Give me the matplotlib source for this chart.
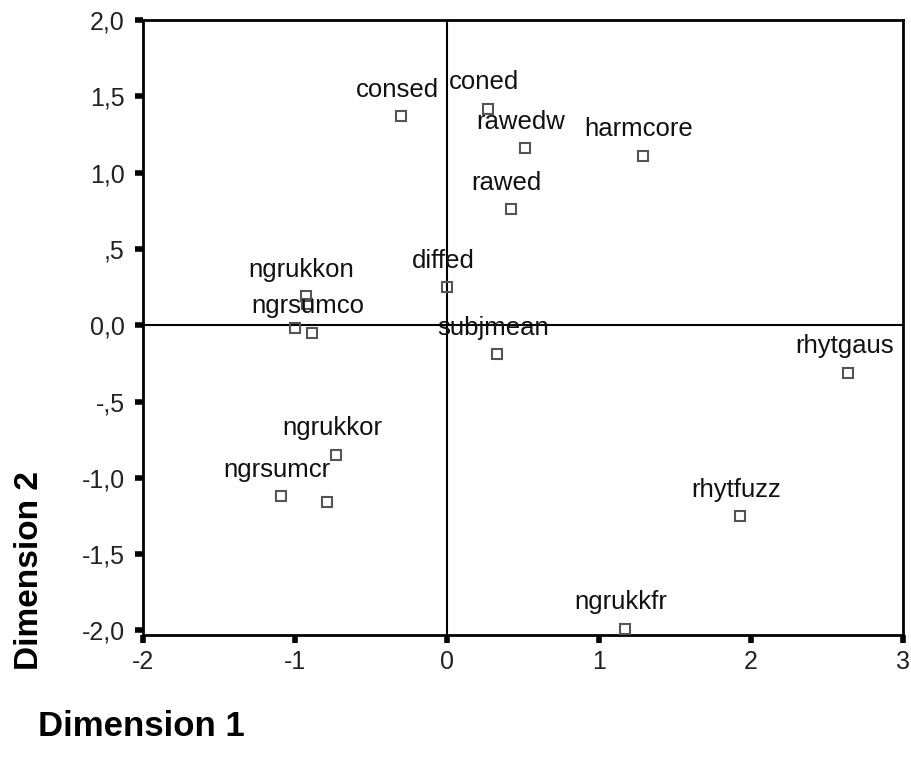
import matplotlib
matplotlib.use('Agg')
import matplotlib.pyplot as plt

plt.rcParams['font.family'] = ['Liberation Sans', 'DejaVu Sans']

# MDS stimulus coordinates
names = ['consed', 'coned', 'rawedw', 'harmcore', 'rawed', 'diffed',
         'ngrukkon', '', '', 'ngrsumco', 'subjmean', 'rhytgaus',
         'ngrukkor', 'ngrsumcr', '', 'rhytfuzz', 'ngrukkfr']
dim1 = [-0.30, 0.27, 0.51, 1.29, 0.42, 0.00,
        -0.93, -0.92, -1.00, -0.89, 0.33, 2.64,
        -0.73, -1.09, -0.79, 1.93, 1.17]
dim2 = [1.37, 1.42, 1.16, 1.11, 0.76, 0.25,
        0.19, 0.14, -0.02, -0.05, -0.19, -0.31,
        -0.85, -1.12, -1.16, -1.25, -1.99]

xticks = [-2, -1, 0, 1, 2, 3]
xticklabels = ['-2', '-1', '0', '1', '2', '3']
yticks = [2.0, 1.5, 1.0, 0.5, 0.0, -0.5, -1.0, -1.5, -2.0]
yticklabels = ['2,0', '1,5', '1,0', ',5', '0,0', '-,5', '-1,0', '-1,5', '-2,0']

fig = plt.figure(figsize=(9.12, 7.7), dpi=100)
ax = fig.add_axes([143 / 912, 1 - 635 / 770, 760 / 912, 615 / 770])

# reference lines through the origin
ax.axhline(0, color='black', lw=1.5, zorder=1)
ax.axvline(0, color='black', lw=1.5, zorder=1)

ax.plot(dim1, dim2, 's', ms=7, mfc='none', mec='#555555', mew=1.5, zorder=3)

for n, x, y in zip(names, dim1, dim2):
    if n:
        ax.annotate(n, (x, y), xytext=(-3, 14), textcoords='offset points',
                    ha='center', va='baseline', fontsize=18.5, color='#111111')

ax.set_xlim(-2, 3)
ax.set_ylim(-2.03, 2.0)
ax.set_xticks(xticks)
ax.set_xticklabels(xticklabels)
ax.set_yticks(yticks)
ax.set_yticklabels(yticklabels)
ax.tick_params(axis='both', direction='out', length=6, width=4, colors='black',
               labelsize=18, labelcolor='#222222')
ax.tick_params(axis='y', pad=7)
ax.tick_params(axis='x', pad=5)

for s in ax.spines.values():
    s.set_linewidth(2)
    s.set_color('black')

fig.text(38 / 912, 1 - 727 / 770, 'Dimension 1', fontsize=25, fontweight='bold',
         ha='left', va='center')
fig.text(30 / 912, 1 - 571 / 770, 'Dimension 2', fontsize=24, fontweight='bold',
         ha='center', va='center', rotation=90)

fig.savefig('out.png', dpi=100)
